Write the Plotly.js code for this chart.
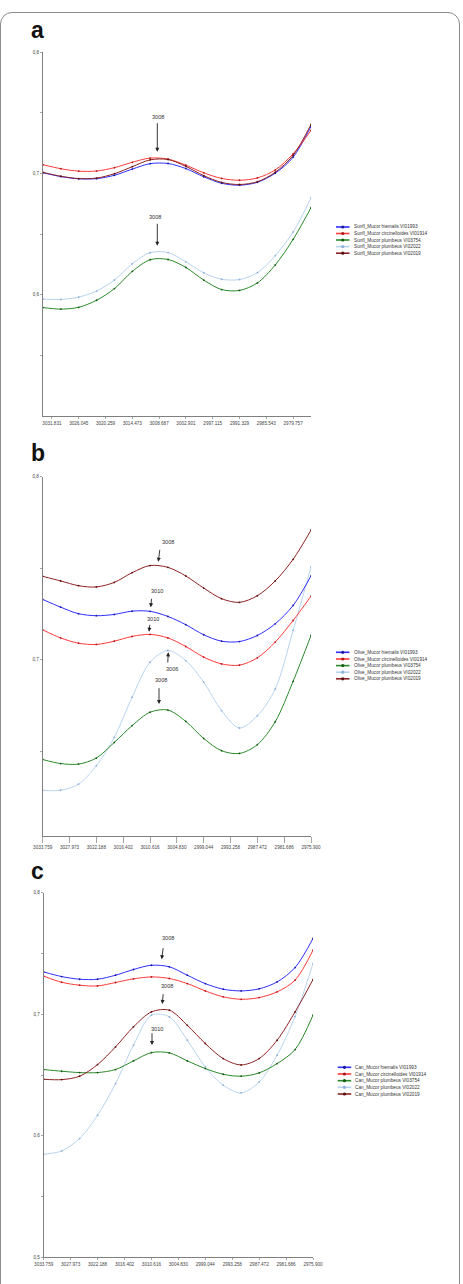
<!DOCTYPE html>
<html>
<head>
<meta charset="utf-8">
<script src="https://cdn.plot.ly/plotly-3.0.1.min.js"></script>
<style>
  html, body { margin: 0; padding: 0; background: #ffffff; width: 463px; height: 1284px; overflow: hidden; }
  #card { position: absolute; left: 0; top: 12px; width: 460px; height: 1300px; border: 1.5px solid #8c8c8c; border-radius: 12px; box-sizing: border-box; }
  #chart { position: absolute; left: 0; top: 0; width: 463px; height: 1284px; }
</style>
</head>
<body>
<div id="card"></div>
<div id="chart"></div>
<script>
// ---------------- data ----------------
const wavenumber = [3033.759, 3029.902, 3026.045, 3022.188, 3018.330, 3014.473, 3010.616, 3006.759,
                    3002.901, 2999.044, 2995.187, 2991.330, 2987.472, 2983.615, 2979.757, 2975.900];

const tickValsA = [3031.831, 3026.045, 3020.259, 3014.473, 3008.687, 3002.901, 2997.115, 2991.329, 2985.543, 2979.757];
const tickTextA = ["3031.831", "3026.045", "3020.259", "3014.473", "3008.687", "3002.901", "2997.115", "2991.329", "2985.543", "2979.757"];
const tickValsBC = [3033.759, 3027.973, 3022.188, 3016.402, 3010.616, 3004.830, 2999.044, 2993.258, 2987.472, 2981.686, 2975.900];
const tickTextBC = ["3033.759", "3027.973", "3022.188", "3016.402", "3010.616", "3004.830", "2999.044", "2993.258", "2987.472", "2981.686", "2975.900"];

const strains = ["Mucor hiemalis VI01993", "Mucor circinelloides VI01914", "Mucor plumbeus VI03754", "Mucor plumbeus VI02022", "Mucor plumbeus VI02019"];
const oilPrefix = ["Sunfl", "Olive", "Can"];

// panel a: sunflower oil
const sunfl_hiemalis_VI01993 = [0.7005,0.6973,0.6955,0.6956,0.6984,0.7035,0.7080,0.7081,0.7039,0.6971,0.6918,0.6902,0.6926,0.7001,0.7133,0.7387];
const sunfl_circinelloides_VI01914 = [0.7071,0.7038,0.7018,0.7019,0.7047,0.7091,0.7126,0.7117,0.7067,0.7004,0.6958,0.6943,0.6962,0.7028,0.7161,0.7354];
const sunfl_plumbeus_VI03754 = [0.5894,0.5881,0.5896,0.5954,0.6050,0.6192,0.6288,0.6290,0.6224,0.6120,0.6042,0.6035,0.6097,0.6245,0.6456,0.6717];
const sunfl_plumbeus_VI02022 = [0.5963,0.5961,0.5980,0.6030,0.6121,0.6255,0.6346,0.6347,0.6271,0.6180,0.6127,0.6125,0.6181,0.6322,0.6517,0.6797];
const sunfl_plumbeus_VI02019 = [0.7008,0.6976,0.6957,0.6961,0.6997,0.7055,0.7111,0.7114,0.7057,0.6981,0.6925,0.6908,0.6931,0.7009,0.7148,0.7403];

// panel b: olive oil
const olive_hiemalis_VI01993 = [0.7330,0.7288,0.7252,0.7241,0.7248,0.7266,0.7265,0.7237,0.7192,0.7137,0.7102,0.7100,0.7133,0.7197,0.7297,0.7458];
const olive_circinelloides_VI01914 = [0.7164,0.7120,0.7091,0.7084,0.7102,0.7128,0.7139,0.7120,0.7073,0.7015,0.6978,0.6971,0.7011,0.7097,0.7215,0.7348];
const olive_plumbeus_VI03754 = [0.6456,0.6434,0.6431,0.6464,0.6549,0.6641,0.6714,0.6726,0.6664,0.6571,0.6504,0.6489,0.6537,0.6662,0.6883,0.7133];
const olive_plumbeus_VI02022 = [0.6288,0.6288,0.6321,0.6422,0.6577,0.6796,0.6987,0.7051,0.6996,0.6878,0.6723,0.6628,0.6695,0.6841,0.7161,0.7507];
const olive_plumbeus_VI02019 = [0.7456,0.7431,0.7405,0.7398,0.7423,0.7476,0.7515,0.7505,0.7458,0.7392,0.7334,0.7314,0.7350,0.7431,0.7549,0.7708];

// panel c: canola oil
const can_hiemalis_VI01993 = [0.7348,0.7310,0.7288,0.7288,0.7321,0.7368,0.7403,0.7390,0.7321,0.7252,0.7206,0.7192,0.7209,0.7266,0.7384,0.7623];
const can_circinelloides_VI01914 = [0.7313,0.7263,0.7239,0.7233,0.7261,0.7291,0.7307,0.7294,0.7252,0.7192,0.7143,0.7123,0.7137,0.7184,0.7280,0.7527];
const can_plumbeus_VI03754 = [0.6545,0.6531,0.6520,0.6520,0.6545,0.6616,0.6684,0.6682,0.6616,0.6553,0.6506,0.6490,0.6517,0.6594,0.6709,0.6992];
const can_plumbeus_VI02022 = [0.5848,0.5875,0.5977,0.6169,0.6429,0.6745,0.6992,0.6978,0.6786,0.6567,0.6416,0.6353,0.6443,0.6663,0.6981,0.7417];
const can_plumbeus_VI02019 = [0.6465,0.6462,0.6490,0.6586,0.6731,0.6896,0.7019,0.7033,0.6909,0.6759,0.6635,0.6583,0.6635,0.6786,0.7019,0.7285];

const panelSeries = [
  [sunfl_hiemalis_VI01993, sunfl_circinelloides_VI01914, sunfl_plumbeus_VI03754, sunfl_plumbeus_VI02022, sunfl_plumbeus_VI02019],
  [olive_hiemalis_VI01993, olive_circinelloides_VI01914, olive_plumbeus_VI03754, olive_plumbeus_VI02022, olive_plumbeus_VI02019],
  [can_hiemalis_VI01993, can_circinelloides_VI01914, can_plumbeus_VI03754, can_plumbeus_VI02022, can_plumbeus_VI02019]
];

// peak annotations (label texts)
const peakLabels = [["3008", "3008"], ["3008", "3010", "3010", "3006", "3008"], ["3008", "3008", "3010"]];

// ---------------- styling / layout ----------------
const W = 463, H = 1284;
const colors = ["#2f2fff", "#ff3a3a", "#2b8a2b", "#b9d3ef", "#8e2222"];
const markerColors = ["#1a1aa0", "#b01818", "#145a14", "#8fb0d8", "#5a1010"];
const FONT = "Liberation Sans, Arial, sans-serif";
const px = v => v / W;
const py = v => 1 - v / H;

// plot frames in pixels: [left, right, top, bottom]
const frames = [
  [43, 311, 52, 416],
  [42.7, 311, 476.7, 836],
  [43.7, 313, 892.7, 1257.3]
];
const yRanges = [[0.5, 0.8], [0.6 + (843 - 836) / 1827, 0.8], [0.5, 0.8]];
const yTicks = [
  {vals: [0.55, 0.6, 0.65, 0.7, 0.75, 0.8], text: ["", "0,6", "", "0,7", "", "0,8"]},
  {vals: [0.65, 0.7, 0.75, 0.8], text: ["", "0,7", "", "0,8"]},
  {vals: [0.5, 0.55, 0.6, 0.65, 0.7, 0.75, 0.8], text: ["0,5", "", "0,6", "", "0,7", "", "0,8"]}
];
const xTicks = [{vals: tickValsA, text: tickTextA}, {vals: tickValsBC, text: tickTextBC}, {vals: tickValsBC, text: tickTextBC}];
const xTickLen = [2, 6, 2];

const traces = [];
const layout = {
  width: W, height: H,
  margin: {l: 0, r: 0, t: 0, b: 0},
  paper_bgcolor: "rgba(0,0,0,0)",
  plot_bgcolor: "rgba(0,0,0,0)",
  showlegend: false,
  font: {family: FONT, color: "#333"},
  annotations: [],
  shapes: []
};

for (let p = 0; p < 3; p++) {
  const xa = p === 0 ? "x" : "x" + (p + 1);
  const ya = p === 0 ? "y" : "y" + (p + 1);
  const xkey = p === 0 ? "xaxis" : "xaxis" + (p + 1);
  const ykey = p === 0 ? "yaxis" : "yaxis" + (p + 1);
  const f = frames[p];
  layout[xkey] = {
    domain: [px(f[0]), px(f[1])],
    range: [wavenumber[0], wavenumber[wavenumber.length - 1]],
    anchor: ya,
    showgrid: false, zeroline: false,
    showline: true, linecolor: "#808080", linewidth: 1,
    ticks: "outside", ticklen: xTickLen[p], tickwidth: 0.7, tickcolor: "#808080",
    tickmode: "array", tickvals: xTicks[p].vals, ticktext: xTicks[p].text,
    tickfont: {size: 4.6, color: "#444", family: FONT},
    tickangle: 0
  };
  layout[ykey] = {
    domain: [py(f[3]), py(f[2])],
    range: yRanges[p],
    anchor: xa,
    showgrid: false, zeroline: false,
    showline: true, linecolor: "#808080", linewidth: 1,
    ticks: "outside", ticklen: 2, tickwidth: 0.7, tickcolor: "#808080",
    tickmode: "array", tickvals: yTicks[p].vals, ticktext: yTicks[p].text,
    tickfont: {size: 4.6, color: "#444", family: FONT}
  };
  // draw order: light blue first so others sit on top
  const order = [3, 2, 0, 1, 4];
  order.forEach(s => {
    traces.push({
      type: "scatter", mode: "lines+markers",
      x: wavenumber, y: panelSeries[p][s],
      xaxis: xa, yaxis: ya,
      name: oilPrefix[p] + "_" + strains[s],
      line: {color: colors[s], width: 1, shape: "spline", smoothing: 0.9},
      marker: {color: markerColors[s], size: 1.8},
      hoverinfo: "skip"
    });
  });

  // custom compact legend
  const legX0 = p === 2 ? 337.7 : 336;
  const legRows = [[227, 233.5, 240, 246.6, 253.2], [652.3, 659, 665.6, 672.2, 678.8], [1067.3, 1074, 1080.7, 1087.3, 1094]][p];
  for (let s = 0; s < 5; s++) {
    layout.shapes.push({type: "line", xref: "paper", yref: "paper",
      x0: px(legX0), x1: px(legX0 + 13.5), y0: py(legRows[s]), y1: py(legRows[s]),
      line: {color: colors[s], width: 1.6}});
    layout.shapes.push({type: "circle", xref: "paper", yref: "paper",
      xsizemode: "pixel", ysizemode: "pixel",
      xanchor: px(legX0 + 6.75), yanchor: py(legRows[s]),
      x0: -1.6, x1: 1.6, y0: -1.6, y1: 1.6,
      fillcolor: markerColors[s], line: {width: 0}});
    layout.annotations.push({xref: "paper", yref: "paper",
      x: px(legX0 + 15.5), y: py(legRows[s]), xanchor: "left", yanchor: "middle",
      text: oilPrefix[p] + "_" + strains[s], showarrow: false,
      font: {size: 4.7, color: "#333", family: FONT}});
  }
}

// panel letters
[["a", 37.5, 30], ["b", 38, 453], ["c", 37.5, 871]].forEach(([t, x, y]) => {
  layout.annotations.push({xref: "paper", yref: "paper", x: px(x), y: py(y),
    xanchor: "center", yanchor: "middle", text: "<b>" + t + "</b>", showarrow: false,
    font: {size: 23, color: "#111", family: FONT}});
});

// peak label positions (pixels): text centre, arrow tail, arrow head
const peakGeom = [
  [[158.3, 116.7, 157.3, 121.7, 157.3, 151.7], [155, 217.3, 157.3, 222.3, 157.3, 245.7]],
  [[167.7, 542.3, 160, 548.3, 158.3, 561.7], [157.3, 590.7, 151.7, 597.3, 150.7, 607.3],
   [153.3, 619.3, 150, 623.3, 149, 631.7], [171.7, 669.3, 167.7, 664, 168.3, 652.3],
   [160.7, 680, 159, 686.7, 159, 704]],
  [[168.3, 938.3, 163.3, 946.7, 161.7, 959.3], [166.7, 986, 163.3, 992.7, 162.3, 1004],
   [157.3, 1028.7, 152, 1031.7, 152, 1045]]
];
for (let p = 0; p < 3; p++) {
  peakGeom[p].forEach((g, i) => {
    layout.annotations.push({xref: "paper", yref: "paper", x: px(g[0]), y: py(g[1]),
      xanchor: "center", yanchor: "middle", text: peakLabels[p][i], showarrow: false,
      font: {size: 5.6, color: "#333", family: FONT}});
    layout.annotations.push({xref: "paper", yref: "paper", x: px(g[4]), y: py(g[5]),
      text: "", showarrow: true, axref: "pixel", ayref: "pixel",
      ax: g[2] - g[4], ay: g[3] - g[5],
      arrowhead: 2, arrowsize: 0.9, arrowwidth: 0.9, arrowcolor: "#222", standoff: 0, startstandoff: 0});
  });
}

Plotly.newPlot("chart", traces, layout, {staticPlot: true, displayModeBar: false});
</script>
</body>
</html>
